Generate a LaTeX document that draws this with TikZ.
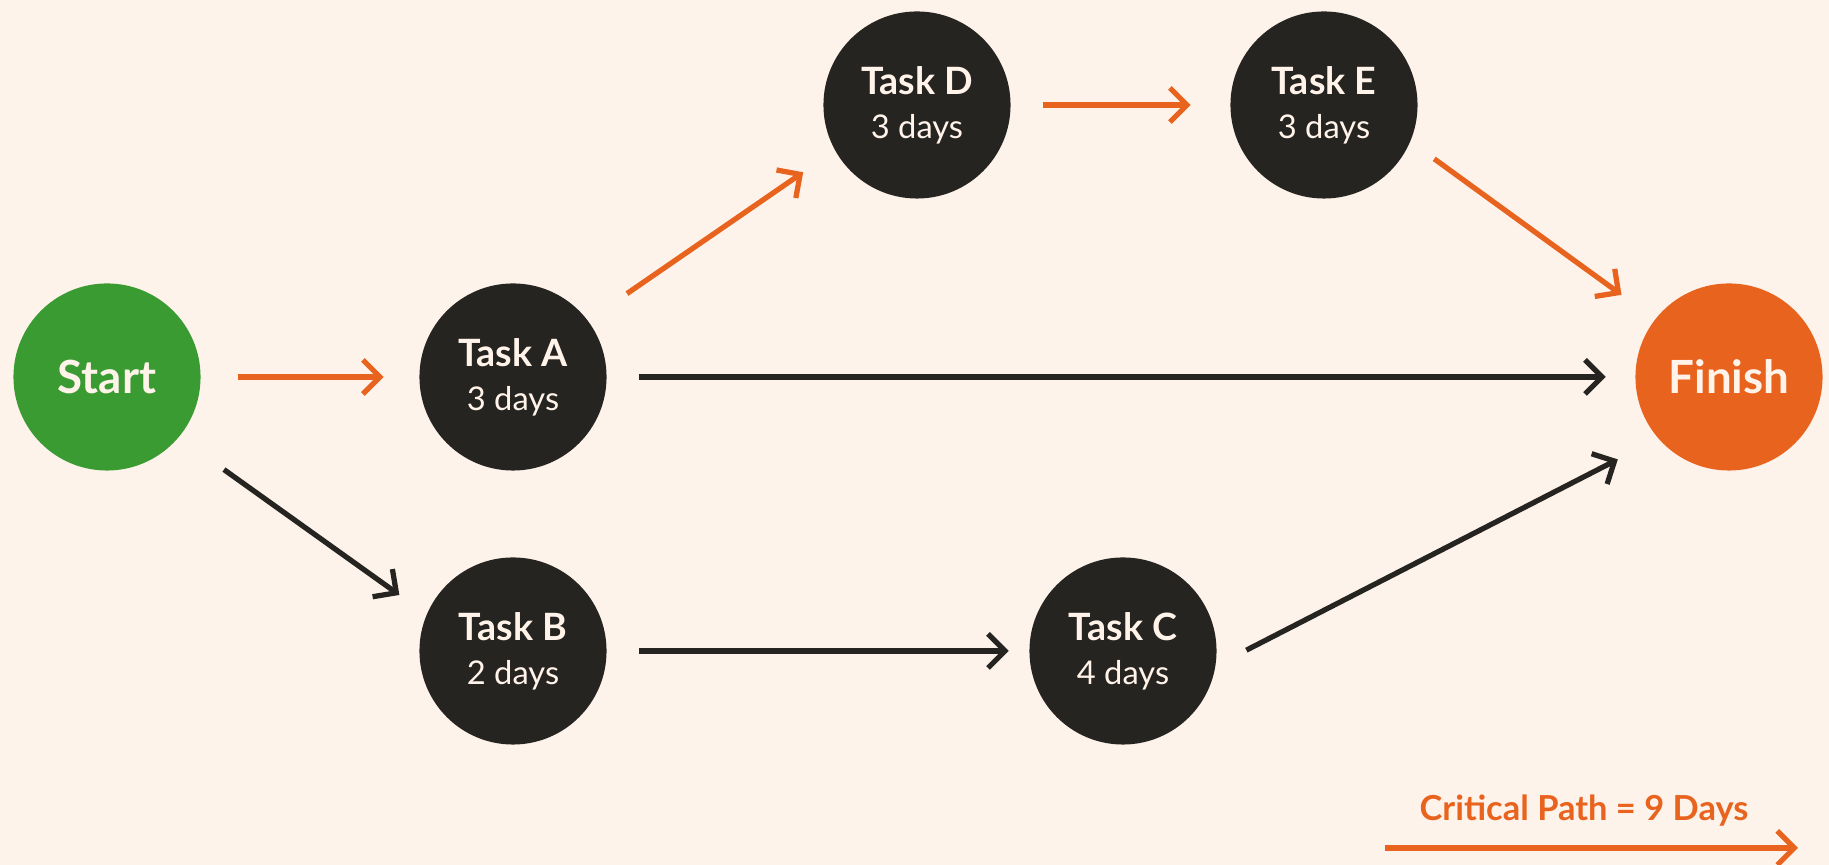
\documentclass[tikz,border=0pt]{standalone}
\usepackage{fontspec}
\setmainfont{Lato}
\usetikzlibrary{arrows.meta}
\definecolor{cream}{HTML}{FEF3EB}
\definecolor{crit}{HTML}{E8631E}
\definecolor{startgreen}{HTML}{3A9B32}
\definecolor{ink}{HTML}{262420}
\definecolor{paper}{HTML}{FFF3EA}
\newcommand{\tasklabel}[2]{{\fontsize{10.7}{12}\selectfont\bfseries #1}\\[0.5pt]{\fontsize{9.3}{12}\selectfont #2}}
\begin{document}
\begin{tikzpicture}[x=0.01cm, y=-0.01cm,
  taskbox/.style={circle, fill=ink, minimum size=1.87cm, inner sep=0pt, text=paper, align=center},
  endbox/.style={taskbox, font=\fontsize{13}{14}\selectfont\bfseries},
  link/.style={-{Straight Barb[length=1.7mm, width=3.4mm]}, line width=1.5pt, draw=ink},
  critlink/.style={link, draw=crit}]
\fill[cream] (0,0) rectangle (1829,865);
\useasboundingbox (0,0) rectangle (1829,865);

\node[endbox, fill=startgreen] (start) at (107,377) {Start};
\node[taskbox] (A) at (513,377) {\tasklabel{Task A}{3 days}};
\node[taskbox] (B) at (513,651) {\tasklabel{Task B}{2 days}};
\node[taskbox] (C) at (1123,651) {\tasklabel{Task C}{4 days}};
\node[taskbox] (D) at (917,105) {\tasklabel{Task D}{3 days}};
\node[taskbox] (E) at (1324,105) {\tasklabel{Task E}{3 days}};
\node[endbox, fill=crit] (finish) at (1729,377) {Finish};

% critical path
\draw[critlink, shorten <=0.37cm, shorten >=0.35cm] (start.0) -- (A.180);
\draw[critlink, shorten <=0.47cm, shorten >=0.38cm] (A.37) -- (D.209);
\draw[critlink, shorten <=0.32cm, shorten >=0.39cm] (D.0) -- (E.180);
\draw[critlink, shorten <=0.29cm, shorten >=0.41cm] (E.-23) -- (finish.142);

% other links
\draw[link, shorten <=0.55cm, shorten >=0.33cm] (start.-40) -- (B.157);
\draw[link, shorten <=0.32cm, shorten >=0.29cm] (A.0) -- (finish.180);
\draw[link, shorten <=0.32cm, shorten >=0.2cm] (B.0) -- (C.180);
\draw[link, shorten <=0.34cm, shorten >=0.45cm] (C.-9) -- (finish.221);

% legend
\node[text=crit, font=\fontsize{9.8}{12}\selectfont\bfseries] (legend) at (1584,811) {Critical Path = 9 Days};
\coordinate (legL) at (1385,848);
\coordinate (legR) at (1798,848);
\draw[critlink] (legL) -- (legR);
\end{tikzpicture}
\end{document}
